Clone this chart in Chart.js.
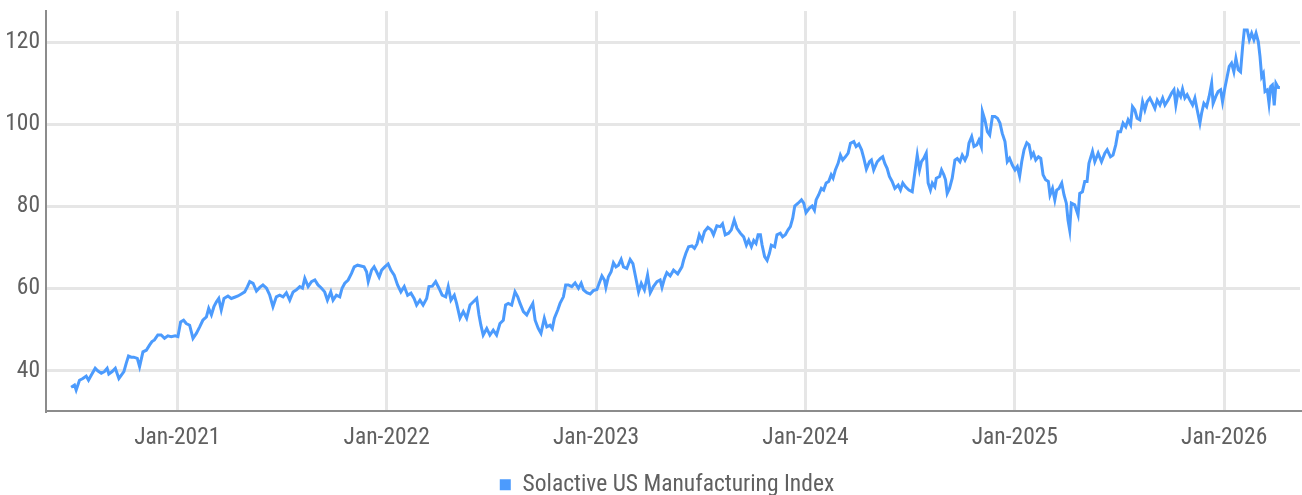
<!DOCTYPE html>
<html>
<head>
<meta charset="utf-8">
<script src="https://cdn.jsdelivr.net/npm/chart.js@4.4.1/dist/chart.umd.min.js"></script>
<style>
  html, body { margin: 0; padding: 0; background: #fff; }
  #wrap { width: 1302px; height: 495px; position: relative; }
</style>
</head>
<body>
<div id="wrap"><canvas id="chart"></canvas></div>
<script>
// Solactive US Manufacturing Index - valores leídos del gráfico
// fechas en años decimales (2021.0 = 1 ene 2021)
const serieNombre = 'Solactive US Manufacturing Index';

const fechas = [
  2020.493, 2020.509, 2020.517, 2020.533, 2020.549, 2020.565, 2020.576, 2020.589, 2020.608, 2020.620,
  2020.637, 2020.652, 2020.665, 2020.673, 2020.689, 2020.704, 2020.721, 2020.732, 2020.745, 2020.756,
  2020.767, 2020.780, 2020.792, 2020.809, 2020.820, 2020.836, 2020.852, 2020.868, 2020.879, 2020.891,
  2020.907, 2020.923, 2020.939, 2020.955, 2020.971, 2020.990, 2021.003, 2021.016, 2021.030, 2021.043,
  2021.059, 2021.075, 2021.091, 2021.107, 2021.122, 2021.139, 2021.150, 2021.163, 2021.175, 2021.187,
  2021.198, 2021.210, 2021.223, 2021.242, 2021.258, 2021.274, 2021.290, 2021.306, 2021.322, 2021.335,
  2021.346, 2021.362, 2021.378, 2021.394, 2021.409, 2021.426, 2021.441,
  2021.446, 2021.457, 2021.473, 2021.489, 2021.505, 2021.521, 2021.537, 2021.553, 2021.569, 2021.585,
  2021.598, 2021.609, 2021.625, 2021.641, 2021.657, 2021.672, 2021.689, 2021.704, 2021.717, 2021.733,
  2021.744, 2021.760, 2021.776, 2021.787, 2021.800, 2021.816, 2021.832, 2021.845, 2021.861, 2021.877,
  2021.892, 2021.904, 2021.912, 2021.928, 2021.940, 2021.952, 2021.964, 2021.976, 2021.991, 2022.007,
  2022.020, 2022.036, 2022.052, 2022.068, 2022.084, 2022.100, 2022.116, 2022.131, 2022.143, 2022.159,
  2022.174, 2022.191, 2022.202, 2022.218, 2022.234, 2022.250, 2022.265, 2022.282, 2022.294, 2022.307,
  2022.323, 2022.334, 2022.350, 2022.366, 2022.382, 2022.398,
  2022.414, 2022.430, 2022.441, 2022.450, 2022.461, 2022.478, 2022.493, 2022.509, 2022.525, 2022.541,
  2022.557, 2022.568, 2022.581, 2022.597, 2022.613, 2022.626, 2022.637, 2022.653, 2022.669, 2022.685,
  2022.698, 2022.709, 2022.724, 2022.737, 2022.753, 2022.765, 2022.780, 2022.791, 2022.801, 2022.817,
  2022.828, 2022.844, 2022.855, 2022.868, 2022.884, 2022.900, 2022.916, 2022.929, 2022.940, 2022.956,
  2022.972, 2022.987, 2023.004, 2023.015, 2023.028, 2023.040, 2023.047, 2023.059, 2023.072, 2023.083,
  2023.095, 2023.107, 2023.120, 2023.131, 2023.147, 2023.163, 2023.176, 2023.187, 2023.203, 2023.216,
  2023.231, 2023.246, 2023.259, 2023.274, 2023.291, 2023.306, 2023.315, 2023.327, 2023.338, 2023.354,
  2023.370, 2023.390, 2023.410, 2023.418, 2023.429, 2023.442, 2023.458, 2023.470, 2023.482, 2023.493,
  2023.506, 2023.518, 2023.534, 2023.550, 2023.561, 2023.577, 2023.593, 2023.604, 2023.617, 2023.633,
  2023.646, 2023.660, 2023.673, 2023.689, 2023.705, 2023.718, 2023.729, 2023.742, 2023.753, 2023.764,
  2023.774, 2023.785, 2023.793, 2023.805, 2023.817, 2023.828, 2023.837, 2023.853, 2023.864, 2023.880,
  2023.891, 2023.904, 2023.917, 2023.928, 2023.939, 2023.949, 2023.965, 2023.981, 2023.992, 2024.003,
  2024.019, 2024.032, 2024.043, 2024.051, 2024.063, 2024.076, 2024.087, 2024.099, 2024.111, 2024.123,
  2024.132, 2024.143, 2024.156, 2024.167, 2024.178, 2024.191, 2024.204, 2024.215, 2024.231, 2024.242,
  2024.255, 2024.268, 2024.279, 2024.291, 2024.306,
  2024.315, 2024.326, 2024.343, 2024.358, 2024.369, 2024.379, 2024.390, 2024.401, 2024.414, 2024.427,
  2024.443, 2024.454, 2024.465, 2024.478, 2024.494, 2024.510, 2024.522, 2024.534, 2024.545, 2024.554,
  2024.565, 2024.577, 2024.586, 2024.597, 2024.606, 2024.618, 2024.625, 2024.641, 2024.650, 2024.661,
  2024.669, 2024.677, 2024.688, 2024.701, 2024.714, 2024.725, 2024.738, 2024.749, 2024.762, 2024.773,
  2024.781, 2024.794, 2024.805, 2024.818, 2024.829, 2024.840, 2024.845, 2024.857, 2024.869, 2024.880,
  2024.893, 2024.905, 2024.917, 2024.929, 2024.940, 2024.953, 2024.964, 2024.975, 2024.988, 2025.001,
  2025.012, 2025.023, 2025.033, 2025.044, 2025.057, 2025.068, 2025.079, 2025.089, 2025.100, 2025.113,
  2025.124, 2025.135, 2025.147, 2025.160, 2025.168, 2025.180, 2025.191, 2025.200, 2025.211, 2025.224,
  2025.235, 2025.246, 2025.254, 2025.262, 2025.270, 2025.286, 2025.302, 2025.310, 2025.323, 2025.334,
  2025.345, 2025.354, 2025.371, 2025.382, 2025.398, 2025.414, 2025.430, 2025.441, 2025.457, 2025.469,
  2025.482, 2025.493, 2025.505, 2025.517, 2025.530, 2025.541, 2025.553, 2025.562, 2025.573, 2025.584,
  2025.597, 2025.610, 2025.621, 2025.632, 2025.645, 2025.658, 2025.669, 2025.680, 2025.693, 2025.706,
  2025.717, 2025.732, 2025.749, 2025.760, 2025.769, 2025.780, 2025.792, 2025.801, 2025.812, 2025.823,
  2025.836, 2025.849, 2025.860, 2025.868, 2025.884, 2025.892, 2025.903, 2025.916, 2025.928, 2025.940,
  2025.947, 2025.960, 2025.971, 2025.983, 2025.992, 2026.003, 2026.014, 2026.024, 2026.035, 2026.046,
  2026.056, 2026.067, 2026.078, 2026.088, 2026.096, 2026.110, 2026.120, 2026.131, 2026.142, 2026.152,
  2026.163, 2026.171, 2026.179, 2026.187, 2026.195, 2026.206, 2026.214, 2026.222, 2026.230, 2026.239,
  2026.247, 2026.258, 2026.266
];

const valores = [
  36.0, 36.5, 35.3, 37.7, 38.1, 38.7, 37.7, 38.9, 40.6, 40.0,
  39.4, 39.8, 40.6, 39.2, 39.8, 40.6, 38.1, 38.9, 39.8, 41.8,
  43.6, 43.3, 43.3, 43.0, 41.0, 44.6, 45.0, 46.3, 47.1, 47.5,
  48.7, 48.7, 47.9, 48.5, 48.3, 48.5, 48.3, 51.9, 52.3, 51.5,
  51.1, 47.9, 49.1, 50.7, 52.3, 53.1, 55.2, 53.6, 55.6, 56.8,
  57.6, 54.8, 57.6, 58.2, 57.6, 57.9, 58.2, 58.7, 59.2, 60.5,
  61.7, 61.3, 59.4, 60.3, 60.9, 60.1, 58.5,
  57.6, 55.6, 58.0, 58.4, 58.0, 59.0, 57.2, 59.2, 59.7, 60.5,
  60.1, 62.5, 60.5, 61.7, 62.1, 60.9, 60.1, 59.2, 57.2, 59.2,
  57.2, 58.4, 58.0, 60.1, 61.3, 62.1, 63.7, 65.3, 65.7, 65.5,
  65.3, 64.1, 61.7, 64.5, 65.3, 64.1, 62.8, 64.5, 65.3, 66.0,
  64.5, 63.3, 60.9, 59.2, 60.5, 58.4, 58.9, 57.6, 56.0, 57.2,
  56.0, 57.6, 60.5, 60.6, 61.7, 60.1, 58.4, 58.0, 60.5, 57.2,
  58.4, 56.4, 52.8, 54.4, 52.8, 56.0,
  56.8, 57.6, 53.6, 51.1, 48.7, 50.3, 48.7, 49.9, 48.7, 51.5,
  52.3, 56.0, 56.4, 56.0, 59.2, 58.0, 56.4, 54.4, 53.6, 55.2,
  56.4, 52.3, 50.3, 49.1, 52.8, 50.7, 51.1, 50.3, 52.8, 54.8,
  56.4, 58.0, 60.9, 60.9, 60.5, 61.4, 60.1, 61.3, 59.7, 59.0,
  58.7, 59.5, 59.8, 61.3, 63.1, 62.1, 60.3, 62.9, 64.1, 66.3,
  65.3, 65.7, 67.1, 65.3, 64.9, 67.1, 66.1, 63.3, 59.2, 61.3,
  59.7, 63.3, 59.0, 60.5, 61.7, 62.1, 60.3, 62.5, 63.9, 63.1,
  64.5, 63.6, 65.3, 66.9, 68.6, 70.2, 70.4, 69.8, 70.9, 73.1,
  71.8, 73.9, 74.9, 74.3, 73.1, 75.3, 75.1, 75.8, 73.1, 73.5,
  74.3, 76.7, 74.7, 73.5, 72.6, 70.6, 71.8, 70.2, 71.7, 71.0,
  73.1, 73.1, 70.6, 67.8, 66.9, 68.6, 70.6, 70.2, 73.1, 73.5,
  72.6, 73.1, 74.3, 75.1, 77.1, 80.1, 80.8, 81.6, 80.8, 78.5,
  79.6, 80.1, 79.1, 81.6, 82.8, 84.4, 84.0, 85.7, 86.1, 87.7,
  86.9, 88.9, 90.5, 92.5, 91.3, 92.1, 93.0, 95.4, 95.8, 94.6,
  95.2, 93.8, 91.7, 89.1, 90.9,
  91.3, 88.9, 90.9, 91.7, 92.1, 90.5, 89.3, 87.3, 86.1, 84.4,
  85.2, 84.0, 85.7, 84.8, 84.0, 83.6, 88.1, 92.5, 88.9, 90.9,
  91.7, 93.0, 85.7, 84.0, 85.7, 84.8, 86.9, 87.3, 88.9, 87.7,
  86.5, 83.2, 84.4, 86.9, 91.3, 91.7, 90.9, 92.5, 91.3, 92.5,
  95.4, 97.0, 94.6, 95.0, 96.2, 94.6, 103.1, 101.1, 98.2, 97.4,
  101.9, 101.9, 101.5, 100.3, 97.8, 95.8, 90.9, 91.7, 90.1, 88.9,
  89.7, 87.4, 90.9, 93.8, 95.5, 95.0, 92.1, 93.0, 91.3, 92.1,
  91.7, 87.7, 86.5, 86.1, 82.8, 84.4, 81.6, 84.0, 84.4, 85.7,
  82.8, 80.8, 76.7, 74.3, 80.8, 80.4, 77.9, 83.2, 83.6, 86.1,
  86.1, 90.5, 93.4, 90.9, 93.0, 90.9, 93.0, 93.8, 92.1, 92.5,
  95.0, 98.2, 98.2, 100.3, 99.4, 101.1, 99.9, 104.3, 103.5, 101.5,
  101.1, 105.5, 103.5, 105.5, 106.4, 105.1, 103.9, 105.9, 104.7, 106.4,
  104.7, 105.9, 107.6, 108.4, 104.7, 108.0, 106.8, 108.6, 106.4, 107.2,
  105.9, 104.7, 106.4, 104.3, 100.3, 102.7, 105.1, 104.3, 106.8, 110.0,
  105.1, 106.8, 108.0, 108.4, 105.5, 108.8, 111.6, 114.1, 114.9, 112.8,
  116.1, 113.3, 112.8, 118.9, 123.0, 123.0, 120.6, 122.2, 120.6, 122.2,
  120.1, 116.5, 111.6, 112.4, 108.0, 108.4, 105.1, 109.2, 109.6, 104.6,
  110.0, 109.0, 109.0
];

// ejes
const ejeXInicio  = 2020.373;
const ejeXFin     = 2026.362;
const ticksX      = [2021, 2022, 2023, 2024, 2025, 2026];
const etiquetasX  = ['Jan-2021', 'Jan-2022', 'Jan-2023', 'Jan-2024', 'Jan-2025', 'Jan-2026'];
const ejeYMin     = 30.2;
const ejeYMax     = 127.6;
const ticksY      = [40, 60, 80, 100, 120];

const AZUL   = '#4c9bfd';
const GRIS   = '#606060';
const FUENTE = "'Arial Narrow', 'Liberation Sans Narrow', 'Roboto Condensed', 'Roboto', sans-serif";

const puntos = fechas.map((f, i) => ({ x: f, y: valores[i] }));

// Leyenda: alto fijo y centrada bajo el área del gráfico
const ajusteLeyenda = {
  id: 'ajusteLeyenda',
  beforeLayout(chart) {
    const lg = chart.legend;
    if (lg && !lg._ajustado) {
      const fitOriginal = lg.fit.bind(lg);
      lg.fit = function () { fitOriginal(); this.height = 25; };
      lg._ajustado = true;
    }
  },
  afterLayout(chart) {
    const lg = chart.legend;
    if (!lg) return;
    const desplazamiento = 17;
    lg.left  += desplazamiento;
    lg.right += desplazamiento;
  }
};

const ctx = document.getElementById('chart').getContext('2d');
new Chart(ctx, {
  type: 'line',
  data: {
    datasets: [{
      label: serieNombre,
      data: puntos,
      borderColor: AZUL,
      backgroundColor: AZUL,
      borderWidth: 3,
      pointRadius: 0,
      tension: 0,
      fill: false
    }]
  },
  plugins: [ajusteLeyenda],
  options: {
    responsive: true,
    maintainAspectRatio: false,
    animation: false,
    layout: { padding: { top: 11, right: 2, left: 0, bottom: 0 } },
    plugins: {
      tooltip: { enabled: false },
      legend: {
        position: 'bottom',
        labels: {
          boxWidth: 11,
          boxHeight: 11,
          padding: 3,
          color: GRIS,
          font: { family: FUENTE, size: 23.5 },
          generateLabels: chart => Chart.defaults.plugins.legend.labels.generateLabels(chart)
            .map(l => Object.assign(l, { lineWidth: 0 }))
        }
      }
    },
    scales: {
      x: {
        type: 'linear',
        min: ejeXInicio,
        max: ejeXFin,
        afterBuildTicks: ax => { ax.ticks = ticksX.map(v => ({ value: v })); },
        afterFit: ax => { ax.height = 59; },
        ticks: {
          callback: (v, i) => etiquetasX[i],
          color: GRIS,
          padding: 13,
          maxRotation: 0,
          font: { family: FUENTE, size: 23.5 }
        },
        grid: { color: '#e6e6e6', lineWidth: 3, drawTicks: false },
        border: { display: true, color: '#8c8c8c', width: 2 }
      },
      y: {
        min: ejeYMin,
        max: ejeYMax,
        afterBuildTicks: ax => { ax.ticks = ticksY.map(v => ({ value: v })); },
        afterFit: ax => { ax.width = 46; },
        ticks: {
          color: GRIS,
          padding: 6,
          font: { family: FUENTE, size: 23.5, lineHeight: 0.4 }
        },
        grid: { color: '#e6e6e6', lineWidth: 3, drawTicks: false },
        border: { display: true, color: '#8c8c8c', width: 2 }
      }
    }
  }
});
</script>
</body>
</html>
